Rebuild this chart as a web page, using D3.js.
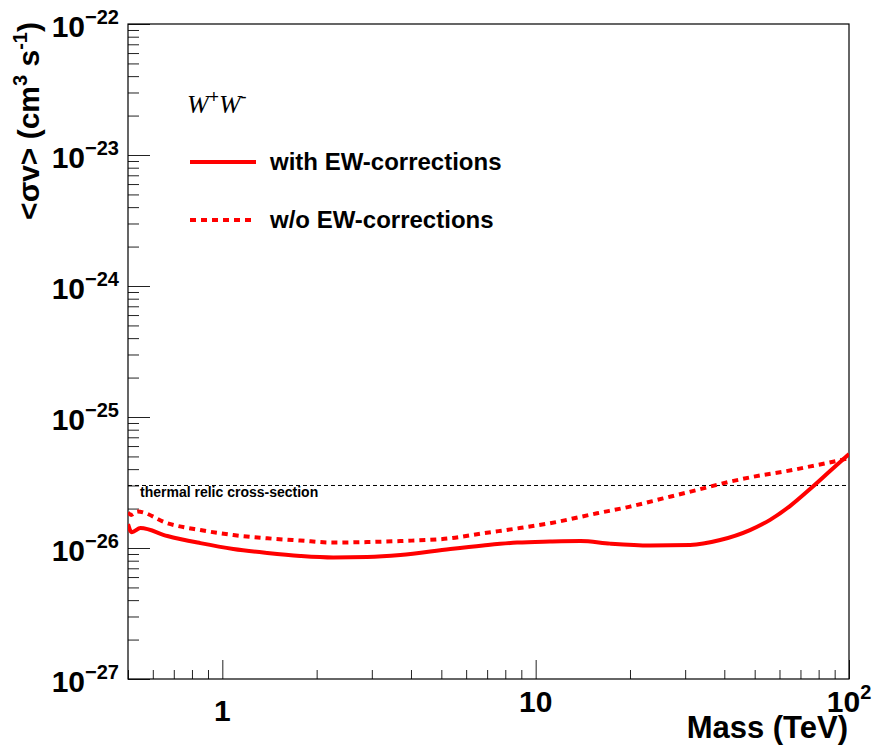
<!DOCTYPE html>
<meta charset="utf-8">
<script src="https://d3js.org/d3.v7.min.js"></script>
<style>
  body { margin: 0; background: #fff; }
  text { font-family: "Liberation Sans", Arial, sans-serif; font-weight: bold; }
</style>
<div id="chart"></div>
<script>
// values (mass in TeV, <sigma v> in cm^3 s^-1)
const massEW = [0.5, 0.514, 0.548, 0.668, 0.851, 1.084, 1.392, 1.774, 2.26, 2.90, 3.70, 5.34, 6.80, 8.73, 11.1, 13.9, 17.3, 23.2, 31.1, 38.8, 48.3, 56.0, 64.8, 75.1, 87.0, 100];
const sigmaEW = [1.52e-26, 1.32e-26, 1.42e-26, 1.235e-26, 1.09e-26, 9.83e-27, 9.16e-27, 8.69e-27, 8.46e-27, 8.53e-27, 8.84e-27, 9.83e-27, 1.045e-26, 1.10e-26, 1.12e-26, 1.13e-26, 1.08e-26, 1.045e-26, 1.054e-26, 1.15e-26, 1.37e-26, 1.64e-26, 2.09e-26, 2.82e-26, 3.87e-26, 5.22e-26];

const massNoEW = [0.5, 0.512, 0.536, 0.668, 0.851, 1.084, 1.392, 1.774, 2.26, 2.90, 3.70, 5.34, 6.80, 8.73, 11.1, 15.7, 20.0, 25.5, 32.7, 41.7, 53.2, 61.6, 79.1, 100];
const sigmaNoEW = [1.867e-26, 1.79e-26, 1.90e-26, 1.545e-26, 1.37e-26, 1.256e-26, 1.186e-26, 1.14e-26, 1.10e-26, 1.11e-26, 1.13e-26, 1.186e-26, 1.295e-26, 1.41e-26, 1.545e-26, 1.84e-26, 2.07e-26, 2.39e-26, 2.77e-26, 3.21e-26, 3.61e-26, 3.82e-26, 4.30e-26, 4.84e-26];

const thermalRelic = 3e-26;

const xMajor = [1, 10, 100];
const xMajorText = ["1", "10", "10"];
const xMajorExp = ["", "", "2"];
const yMajor = [1e-27, 1e-26, 1e-25, 1e-24, 1e-23, 1e-22];
const yMajorExp = ["\u221227", "\u221226", "\u221225", "\u221224", "\u221223", "\u221222"];

const width = 872, height = 748;
const margin = {left: 128, top: 24, right: 23, bottom: 69};

const svg = d3.select("#chart").append("svg")
    .attr("width", width)
    .attr("height", height);

const x = d3.scaleLog().domain([0.5, 100]).range([margin.left, width - margin.right]);
const y = d3.scaleLog().domain([1e-27, 1e-22]).range([height - margin.bottom, margin.top]);

svg.append("clipPath").attr("id", "clip")
  .append("rect")
    .attr("x", margin.left).attr("y", margin.top)
    .attr("width", width - margin.left - margin.right)
    .attr("height", height - margin.top - margin.bottom);

// ticks (inside the frame, ROOT style)
const xMinor = x.ticks().filter(d => !xMajor.includes(d));
const yMinor = y.ticks().filter(d => !yMajor.some(m => Math.abs(m - d) / m < 1e-6));

function tickAxis(axis, tx) {
  const g = svg.append("g").attr("transform", tx).call(axis);
  g.select(".domain").remove();
  g.selectAll("text").remove();
  g.selectAll("line").attr("stroke", "#222").attr("stroke-width", 1);
}
const bottomY = height - margin.bottom;
tickAxis(d3.axisBottom(x).tickValues(xMinor).tickSize(-9), `translate(0,${bottomY})`);
tickAxis(d3.axisBottom(x).tickValues(xMajor).tickSize(-19), `translate(0,${bottomY})`);
tickAxis(d3.axisLeft(y).tickValues(yMinor).tickSize(-11), `translate(${margin.left},0)`);
tickAxis(d3.axisLeft(y).tickValues(yMajor).tickSize(-22), `translate(${margin.left},0)`);

// frame
svg.append("rect")
    .attr("x", margin.left).attr("y", margin.top)
    .attr("width", width - margin.left - margin.right)
    .attr("height", height - margin.top - margin.bottom)
    .attr("fill", "none").attr("stroke", "#000").attr("stroke-width", 1.2);

// y tick labels
yMajor.forEach((v, i) => {
  const t = svg.append("text")
      .attr("x", 119).attr("y", y(v) + 13)
      .attr("text-anchor", "end")
      .style("font-size", "30px");
  t.append("tspan").text("10");
  t.append("tspan").attr("dy", -13).style("font-size", "20px").text(yMajorExp[i]);
});

// x tick labels
xMajor.forEach((v, i) => {
  const t = svg.append("text")
      .attr("x", x(v)).attr("y", i === 0 ? 721 : 712)
      .attr("text-anchor", "middle")
      .style("font-size", "30px");
  t.append("tspan").text(xMajorText[i]);
  if (xMajorExp[i]) t.append("tspan").attr("dy", -13).style("font-size", "20px").text(xMajorExp[i]);
});

// axis titles
svg.append("text")
    .attr("x", width - margin.right - 1).attr("y", 738)
    .attr("text-anchor", "end")
    .style("font-size", "31px")
    .text("Mass (TeV)");

const yt = svg.append("text")
    .attr("transform", "translate(39,22) rotate(-90)")
    .attr("text-anchor", "end")
    .style("font-size", "30px");
yt.append("tspan").text("<\u03c3v> (cm");
yt.append("tspan").attr("dy", -12).style("font-size", "20px").text("3");
yt.append("tspan").attr("dy", 12).text(" s");
yt.append("tspan").attr("dy", -12).style("font-size", "20px").text("-1");
yt.append("tspan").attr("dy", 12).text(")");

// thermal relic line
svg.append("line")
    .attr("x1", margin.left).attr("x2", width - margin.right)
    .attr("y1", y(thermalRelic)).attr("y2", y(thermalRelic))
    .attr("stroke", "#000").attr("stroke-width", 1)
    .attr("stroke-dasharray", "4,3");
svg.append("text")
    .attr("x", 140).attr("y", 497)
    .style("font-size", "14px")
    .text("thermal relic cross-section");

// curves
const line = d3.line()
    .x(d => x(d[0])).y(d => y(d[1]))
    .curve(d3.curveMonotoneX);

const curves = svg.append("g").attr("clip-path", "url(#clip)");
curves.append("path")
    .attr("d", line(massNoEW.map((m, i) => [m, sigmaNoEW[i]])))
    .attr("fill", "none").attr("stroke", "#ff0000").attr("stroke-width", 4)
    .attr("stroke-dasharray", "6,5");
curves.append("path")
    .attr("d", line(massEW.map((m, i) => [m, sigmaEW[i]])))
    .attr("fill", "none").attr("stroke", "#ff0000").attr("stroke-width", 4);

// legend
svg.append("text")
    .attr("x", 187).attr("y", 113)
    .style("font-family", "'Liberation Serif', 'Times New Roman', serif")
    .style("font-style", "italic").style("font-weight", "normal")
    .style("font-size", "26px")
    .call(t => {
      t.append("tspan").text("W");
      t.append("tspan").attr("dy", -10).style("font-size", "18px").style("font-style", "normal").style("font-weight", "bold").text("+");
      t.append("tspan").attr("dy", 10).text("W");
      t.append("tspan").attr("dy", -11).style("font-size", "18px").style("font-style", "normal").text("-");
    });

const legend = [
  {label: "with EW-corrections", dash: null, y: 162},
  {label: "w/o EW-corrections", dash: "6,5", y: 220}
];
legend.forEach(d => {
  svg.append("line")
      .attr("x1", 190).attr("x2", 256)
      .attr("y1", d.y).attr("y2", d.y)
      .attr("stroke", "#ff0000").attr("stroke-width", 4)
      .attr("stroke-dasharray", d.dash);
  svg.append("text")
      .attr("x", 270).attr("y", d.y + 8)
      .style("font-size", "24px")
      .text(d.label);
});
</script>
